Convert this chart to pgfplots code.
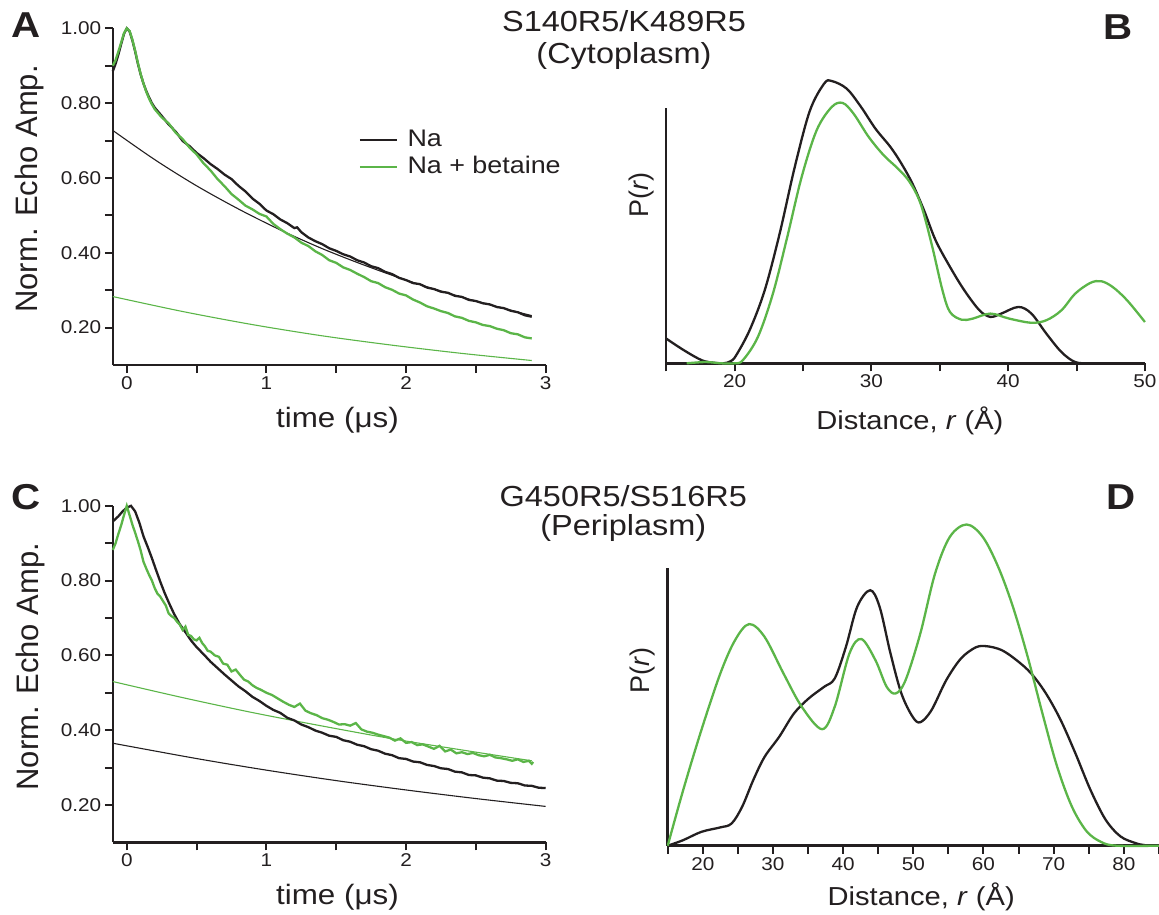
\documentclass[border=0pt]{standalone}
\usepackage{fontspec}
\setmainfont{Liberation Sans}[FakeStretch=1.12]
\newfontfamily\rotfont{Liberation Sans}
\usepackage{pgfplots}
\pgfplotsset{compat=1.18}
\definecolor{ink}{HTML}{231F20}
\definecolor{grn}{HTML}{5BB548}

\pgfplotsset{
  panel/.style={
    scale only axis, anchor=south west, clip=false,
    axis x line*=bottom, axis y line*=left,
    axis line style={line width=2.5pt, draw=ink},
    tick style={line width=2pt, draw=ink},
    major tick length=8pt, minor tick length=8pt, tick align=outside,
    tick label style={font=\fontsize{18.5}{20}\selectfont, text=ink},
    /pgf/number format/assume math mode=true,
    label style={text=ink},
  },
  decay/.style={panel,
    xmin=-0.1, xmax=3, ymin=0.1, ymax=1.0,
    xtick={0,1,2,3}, minor xtick={0.5,1.5,2.5},
    ytick={0.2,0.4,0.6,0.8,1.0}, minor ytick={0.3,0.5,0.7,0.9},
    yticklabel style={/pgf/number format/.cd, fixed, fixed zerofill, precision=2},
    xlabel={time (μs)},
    ylabel={\rotfont Norm. Echo Amp.},
    xlabel style={font=\fontsize{28}{30}\selectfont, anchor=center},
    ylabel style={font=\fontsize{31}{33}\selectfont, anchor=center, rotate=0},
  },
  dist/.style={panel,
    ymin=0, ymax=1, ytick=\empty,
    xlabel={Distance, \textit{r} (Å)},
    ylabel={\rotfont P(\textit{r})},
    xlabel style={font=\fontsize{26}{28}\selectfont, anchor=center},
    ylabel style={font=\fontsize{27}{29}\selectfont, anchor=center},
  },
  dat/.style={line width=2.3pt},
  fit/.style={line width=1.1pt, smooth},
  pr/.style={line width=2.3pt, smooth, tension=0.55},
}

\begin{document}
\begin{tikzpicture}
\useasboundingbox (0,0) rectangle (1159pt,-915pt);

% ---- A: cytoplasm DEER traces
\begin{axis}[decay, at={(112.8pt,-365pt)}, width=432.9pt, height=336.7pt,
  xlabel style={at={(axis description cs:0.519,-0.163)}},
  ylabel style={at={(axis description cs:-0.192,0.523)}}]
  \addplot[fit, ink] coordinates {(-0.1,0.727)(0.2,0.649)(0.5,0.579)(0.8,0.517)(1.1,0.461)
    (1.4,0.411)(1.7,0.367)(2.0,0.327)(2.3,0.292)(2.6,0.261)(2.9,0.232)};
  \addplot[fit, grn] coordinates {(-0.1,0.283)(0.4,0.243)(0.9,0.208)(1.4,0.178)
    (1.9,0.153)(2.4,0.131)(2.9,0.112)};
  \addplot[dat, ink] coordinates {
    (-0.10,0.885)(-0.08,0.905)(-0.06,0.930)(-0.04,0.958)(-0.02,0.985)(0.00,1.000)
    (0.02,0.992)(0.04,0.968)(0.06,0.938)(0.08,0.905)(0.10,0.876)(0.12,0.852)
    (0.14,0.832)(0.16,0.815)(0.18,0.800)(0.20,0.788)(0.25,0.766)(0.30,0.743)
    (0.35,0.724)(0.40,0.699)(0.45,0.685)(0.50,0.667)(0.55,0.653)(0.60,0.637)
    (0.65,0.624)(0.70,0.609)(0.75,0.597)(0.80,0.579)(0.85,0.564)(0.90,0.545)
    (0.95,0.531)(1.00,0.513)(1.05,0.503)(1.10,0.489)(1.15,0.479)(1.20,0.466)
    (1.22,0.468)(1.25,0.455)(1.30,0.441)(1.35,0.431)(1.40,0.423)(1.45,0.412)
    (1.50,0.405)(1.55,0.396)(1.60,0.390)(1.65,0.380)(1.70,0.374)(1.75,0.364)
    (1.80,0.359)(1.85,0.349)(1.90,0.343)(1.95,0.333)(2.00,0.327)(2.05,0.319)
    (2.10,0.316)(2.15,0.307)(2.20,0.303)(2.25,0.296)(2.30,0.293)(2.35,0.285)
    (2.40,0.282)(2.45,0.274)(2.50,0.271)(2.55,0.265)(2.60,0.262)(2.65,0.255)
    (2.70,0.252)(2.75,0.245)(2.80,0.241)(2.85,0.233)(2.90,0.229)};
  \addplot[dat, grn] coordinates {
    (-0.10,0.900)(-0.08,0.915)(-0.06,0.938)(-0.04,0.962)(-0.02,0.987)(0.00,1.000)
    (0.02,0.993)(0.04,0.970)(0.06,0.940)(0.08,0.907)(0.10,0.877)(0.12,0.852)
    (0.14,0.830)(0.16,0.812)(0.18,0.797)(0.20,0.784)(0.25,0.762)(0.30,0.746)
    (0.35,0.721)(0.40,0.704)(0.45,0.681)(0.50,0.663)(0.55,0.639)(0.60,0.620)
    (0.65,0.597)(0.70,0.578)(0.75,0.557)(0.80,0.542)(0.85,0.526)(0.90,0.516)
    (0.95,0.504)(1.00,0.497)(1.05,0.477)(1.10,0.463)(1.15,0.451)(1.20,0.441)
    (1.25,0.427)(1.30,0.418)(1.35,0.404)(1.40,0.394)(1.45,0.380)(1.50,0.373)
    (1.55,0.361)(1.60,0.354)(1.65,0.344)(1.70,0.335)(1.75,0.324)(1.80,0.319)
    (1.85,0.308)(1.90,0.301)(1.95,0.291)(2.00,0.286)(2.05,0.275)(2.10,0.267)
    (2.15,0.257)(2.20,0.251)(2.25,0.244)(2.30,0.239)(2.35,0.230)(2.40,0.226)
    (2.45,0.218)(2.50,0.214)(2.55,0.207)(2.60,0.204)(2.65,0.197)(2.70,0.193)
    (2.75,0.185)(2.80,0.182)(2.85,0.174)(2.90,0.171)};
  % legend
  \addplot[dat, ink] coordinates {(1.67,0.701)(1.933,0.701)};
  \addplot[dat, grn] coordinates {(1.67,0.630)(1.933,0.630)};
  \node[anchor=base west, inner sep=0pt, font=\fontsize{24}{26}\selectfont, text=ink]
    at (axis cs:2.009,0.6835) {Na};
  \node[anchor=base west, inner sep=0pt, font=\fontsize{24}{26}\selectfont, text=ink]
    at (axis cs:2.009,0.612) {Na + betaine};
\end{axis}

% ---- B: cytoplasm distance distributions
\begin{axis}[dist, at={(666.2pt,-363.3pt)}, width=478.7pt, height=255pt,
  xmin=15, xmax=50, xtick={20,30,40,50}, minor xtick={15,25,35,45},
  xlabel style={at={(axis description cs:0.509,-0.226)}},
  ylabel style={at={(axis description cs:-0.0506,0.66)}}]
  \addplot[pr, ink] coordinates {
    (15,0.097)(16.3,0.051)(17.6,0.012)(18.5,0.002)(19.2,0.0)(19.7,0.008)(20.1,0.030)
    (21.1,0.130)(22.2,0.286)(23.3,0.510)(24.4,0.770)(25.5,0.990)(26.55,1.097)
    (27.1,1.107)(28.2,1.077)(29.25,1.005)(30.3,0.920)(31.4,0.848)(32.2,0.783)
    (33.0,0.705)(33.85,0.600)(34.7,0.482)(35.75,0.378)(36.8,0.286)(37.9,0.208)
    (38.7,0.182)(39.5,0.195)(40.75,0.221)(41.7,0.195)(42.8,0.116)(43.9,0.044)
    (44.9,0.005)(46,0)(48,0)(50,0)};
  \addplot[pr, grn] coordinates {
    (16.5,0.0)(17.9,0.005)(19,0.0)(20.0,0.0)(20.6,0.012)(21.7,0.103)(22.8,0.273)
    (23.85,0.495)(24.9,0.730)(26.0,0.914)(27.1,1.005)(27.9,1.021)(28.7,0.979)
    (29.8,0.888)(30.9,0.816)(31.95,0.763)(32.8,0.711)(33.6,0.626)(34.4,0.469)
    (35.2,0.286)(35.75,0.201)(36.6,0.171)(37.4,0.175)(38.7,0.195)(40.1,0.175)
    (41.7,0.159)(42.8,0.169)(43.9,0.208)(44.9,0.273)(46.0,0.315)(46.8,0.322)
    (47.65,0.299)(48.7,0.247)(50,0.162)};
\end{axis}

% ---- C: periplasm DEER traces
\begin{axis}[decay, at={(112.8pt,-842.3pt)}, width=432.9pt, height=336.5pt,
  xlabel style={at={(axis description cs:0.519,-0.1625)}},
  ylabel style={at={(axis description cs:-0.19,0.522)}}]
  \addplot[fit, grn] coordinates {(-0.1,0.530)(0.4,0.487)(0.9,0.447)(1.4,0.411)
    (1.9,0.377)(2.4,0.347)(2.9,0.318)};
  \addplot[fit, ink] coordinates {(-0.1,0.365)(0.5,0.324)(1.0,0.293)(1.5,0.265)
    (2.0,0.240)(2.5,0.217)(3.0,0.196)};
  \addplot[dat, ink] coordinates {
    (-0.10,0.958)(-0.06,0.972)(-0.03,0.985)(0.00,0.995)(0.03,1.000)(0.06,0.985)
    (0.09,0.955)(0.12,0.918)(0.15,0.890)(0.18,0.860)(0.21,0.828)(0.24,0.797)
    (0.27,0.768)(0.30,0.742)(0.34,0.710)(0.38,0.683)(0.42,0.662)(0.46,0.640)
    (0.50,0.622)(0.55,0.603)(0.60,0.583)(0.65,0.566)(0.70,0.549)(0.75,0.533)
    (0.80,0.517)(0.85,0.504)(0.90,0.489)(0.95,0.478)(1.00,0.465)(1.05,0.454)
    (1.10,0.446)(1.15,0.433)(1.20,0.426)(1.25,0.415)(1.30,0.408)(1.35,0.399)
    (1.40,0.393)(1.45,0.385)(1.50,0.382)(1.55,0.373)(1.60,0.369)(1.65,0.361)
    (1.70,0.357)(1.75,0.349)(1.80,0.345)(1.85,0.337)(1.90,0.333)(1.95,0.325)
    (2.00,0.323)(2.05,0.316)(2.10,0.314)(2.15,0.307)(2.20,0.304)(2.25,0.298)
    (2.30,0.296)(2.35,0.289)(2.40,0.287)(2.45,0.280)(2.50,0.279)(2.55,0.273)
    (2.60,0.271)(2.65,0.265)(2.70,0.264)(2.75,0.259)(2.80,0.258)(2.85,0.252)
    (2.90,0.251)(2.95,0.246)(3.00,0.245)};
  \addplot[dat, grn] coordinates {
    (-0.10,0.882)(-0.08,0.900)(-0.06,0.925)(-0.04,0.948)(-0.02,0.975)(0.00,1.000)
    (0.02,0.975)(0.04,0.950)(0.06,0.928)(0.08,0.905)(0.10,0.880)(0.12,0.850)
    (0.14,0.832)(0.16,0.815)(0.18,0.800)(0.20,0.780)(0.22,0.765)(0.24,0.757)
    (0.26,0.745)(0.28,0.733)(0.30,0.712)(0.32,0.705)(0.34,0.700)(0.36,0.690)
    (0.38,0.682)(0.40,0.668)(0.42,0.677)(0.44,0.655)(0.46,0.652)(0.48,0.643)
    (0.50,0.640)(0.52,0.647)(0.54,0.633)(0.56,0.624)(0.58,0.612)(0.60,0.610)
    (0.63,0.600)(0.66,0.596)(0.69,0.578)(0.72,0.575)(0.75,0.557)(0.78,0.562)
    (0.81,0.548)(0.84,0.535)(0.87,0.530)(0.90,0.520)(0.93,0.513)(0.96,0.508)
    (1.00,0.500)(1.04,0.494)(1.08,0.485)(1.12,0.476)(1.16,0.468)(1.20,0.462)
    (1.24,0.471)(1.28,0.452)(1.32,0.445)(1.36,0.440)(1.40,0.432)(1.44,0.428)
    (1.48,0.422)(1.52,0.415)(1.56,0.416)(1.60,0.412)(1.64,0.419)(1.68,0.402)
    (1.72,0.396)(1.76,0.393)(1.80,0.388)(1.84,0.384)(1.88,0.380)(1.92,0.372)
    (1.96,0.378)(2.00,0.366)(2.04,0.368)(2.08,0.360)(2.12,0.362)(2.16,0.356)
    (2.20,0.350)(2.24,0.358)(2.28,0.343)(2.32,0.348)(2.36,0.338)(2.40,0.341)
    (2.44,0.336)(2.48,0.339)(2.52,0.333)(2.56,0.330)(2.60,0.334)(2.64,0.327)
    (2.68,0.325)(2.72,0.322)(2.76,0.318)(2.80,0.322)(2.84,0.315)(2.88,0.318)
    (2.90,0.310)(2.91,0.315)};
\end{axis}

% ---- D: periplasm distance distributions
\begin{axis}[dist, at={(667.7pt,-845.7pt)}, width=491.2pt, height=277.4pt,
  xmin=15, xmax=85, xtick={20,30,...,80}, minor xtick={15,25,...,85},
  xlabel style={at={(axis description cs:0.516,-0.184)}},
  ylabel style={at={(axis description cs:-0.0505,0.633)}}]
  \addplot[pr, ink] coordinates {
    (15,0)(17.2,0.020)(19.8,0.050)(22.5,0.066)(24.1,0.080)(25.6,0.140)(27.2,0.237)
    (28.8,0.320)(30.9,0.393)(33.0,0.477)(35.1,0.531)(37.3,0.573)(38.8,0.603)
    (40.4,0.717)(42.0,0.861)(43.85,0.921)(45.2,0.861)(46.75,0.693)(48.3,0.549)
    (49.9,0.465)(51.0,0.445)(52.6,0.489)(54.7,0.597)(56.8,0.675)(58.9,0.715)
    (60.5,0.719)(62.6,0.705)(64.7,0.669)(66.8,0.621)(68.9,0.549)(71.0,0.453)
    (73.1,0.333)(75.25,0.201)(77.4,0.094)(79.5,0.034)(81.6,0.010)(83,0.002)(85,0)};
  \addplot[pr, grn] coordinates {
    (15,0)(17.2,0.200)(19.8,0.417)(22.5,0.621)(24.6,0.741)(26.6,0.799)(28.8,0.753)
    (31.5,0.621)(34.1,0.501)(37.0,0.420)(38.8,0.501)(40.9,0.693)(42.6,0.745)
    (44.6,0.669)(46.2,0.573)(47.5,0.549)(48.9,0.597)(51.0,0.765)(53.1,0.981)
    (55.2,1.113)(57.6,1.158)(59.9,1.113)(62.1,1.005)(64.2,0.861)(66.3,0.681)
    (68.4,0.477)(70.5,0.285)(72.6,0.141)(74.7,0.052)(76.8,0.013)(79.0,0)(85,0)};
\end{axis}

% ---- titles and panel letters
\begin{scope}[every node/.style={inner sep=0pt, text=ink}]
  \node[anchor=base, font=\fontsize{29}{31}\selectfont] at (624pt,-31.7pt) {S140R5/K489R5};
  \node[anchor=base, font=\fontsize{29}{31}\selectfont] at (624pt,-63.3pt) {(Cytoplasm)};
  \node[anchor=base, font=\fontsize{29}{31}\selectfont] at (623.3pt,-506.7pt) {G450R5/S516R5};
  \node[anchor=base, font=\fontsize{29}{31}\selectfont] at (623.3pt,-535pt) {(Periplasm)};
  \node[font=\fontsize{36}{38}\selectfont\bfseries] at (25.8pt,-25pt) {A};
  \node[font=\fontsize{36}{38}\selectfont\bfseries] at (1118pt,-26.7pt) {B};
  \node[font=\fontsize{36}{38}\selectfont\bfseries] at (26pt,-497.5pt) {C};
  \node[font=\fontsize{36}{38}\selectfont\bfseries] at (1121pt,-496.7pt) {D};
\end{scope}
\end{tikzpicture}
\end{document}
